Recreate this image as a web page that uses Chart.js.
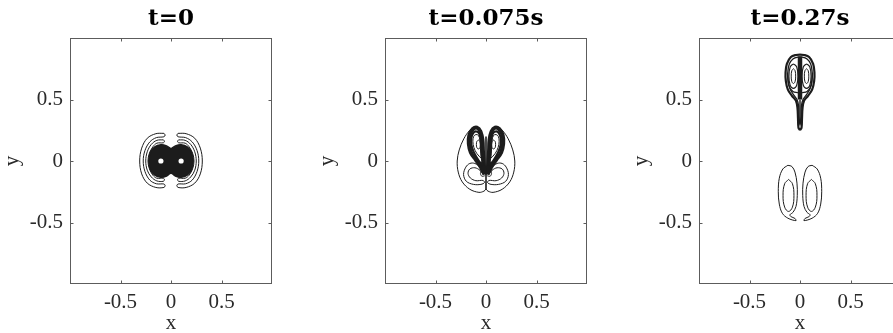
<!DOCTYPE html>
<html>
<head>
<meta charset="utf-8">
<script src="https://cdn.jsdelivr.net/npm/chart.js@4.4.1/dist/chart.umd.min.js"></script>
<style>
  html, body { margin: 0; padding: 0; background: #fff; overflow: hidden; width: 893px; height: 333px; }
  canvas { position: absolute; top: 0; }
</style>
</head>
<body>
<canvas id="c0" width="282" height="333" style="left:0px"></canvas>
<canvas id="c1" width="282" height="333" style="left:315px"></canvas>
<canvas id="c2" width="282" height="333" style="left:629px"></canvas>
<script>
// axes
const panelTitles = ["t=0", "t=0.075s", "t=0.27s"];
const xTicks = [-0.5, 0, 0.5];
const yTicks = [-0.5, 0, 0.5];
const tickLabels = ["-0.5", "0", "0.5"];

// --- t=0 : vortex pair with side lobes ---
const p1Blob = [[0,0.10],[0.05,0.125],[0.1,0.132],[0.16,0.115],[0.205,0.07],[0.22,0],[0.205,-0.07],[0.16,-0.115],[0.1,-0.132],[0.05,-0.125],[0,-0.10],[-0.05,-0.125],[-0.1,-0.132],[-0.16,-0.115],[-0.205,-0.07],[-0.22,0],[-0.205,0.07],[-0.16,0.115],[-0.1,0.132],[-0.05,0.125],[0,0.10]];
const p1Cores = [[-0.1,0],[0.1,0]];
const p1OuterLeft = [[-0.07,0.225],[-0.15,0.222],[-0.235,0.185],[-0.29,0.105],[-0.31,0],[-0.29,-0.105],[-0.235,-0.18],[-0.15,-0.215],[-0.07,-0.215],[-0.058,-0.2],[-0.07,-0.187],[-0.145,-0.185],[-0.21,-0.155],[-0.258,-0.085],[-0.275,0],[-0.258,0.085],[-0.21,0.155],[-0.145,0.19],[-0.07,0.197],[-0.058,0.211],[-0.07,0.225]];
const p1OuterRight = [[0.07,0.225],[0.15,0.222],[0.235,0.185],[0.29,0.105],[0.31,0],[0.29,-0.105],[0.235,-0.18],[0.15,-0.215],[0.07,-0.215],[0.058,-0.2],[0.07,-0.187],[0.145,-0.185],[0.21,-0.155],[0.258,-0.085],[0.275,0],[0.258,0.085],[0.21,0.155],[0.145,0.19],[0.07,0.197],[0.058,0.211],[0.07,0.225]];
const p1InnerLeft = [[-0.075,0.172],[-0.14,0.168],[-0.195,0.135],[-0.235,0.075],[-0.25,0],[-0.235,-0.075],[-0.195,-0.13],[-0.14,-0.162],[-0.075,-0.165],[-0.065,-0.152],[-0.075,-0.14],[-0.14,-0.14],[-0.18,-0.115],[-0.215,-0.06],[-0.228,0],[-0.215,0.06],[-0.18,0.115],[-0.14,0.145],[-0.075,0.148],[-0.065,0.16],[-0.075,0.172]];
const p1InnerRight = [[0.075,0.172],[0.14,0.168],[0.195,0.135],[0.235,0.075],[0.25,0],[0.235,-0.075],[0.195,-0.13],[0.14,-0.162],[0.075,-0.165],[0.065,-0.152],[0.075,-0.14],[0.14,-0.14],[0.18,-0.115],[0.215,-0.06],[0.228,0],[0.215,0.06],[0.18,0.115],[0.14,0.145],[0.075,0.148],[0.065,0.16],[0.075,0.172]];

// --- t=0.075s : rolled-up lobes ---
const p2EnvLeft = [[-0.1,0.28],[-0.16,0.25],[-0.22,0.18],[-0.265,0.09],[-0.285,0],[-0.275,-0.09],[-0.235,-0.17],[-0.16,-0.23],[-0.07,-0.255],[-0.02,-0.245],[0,-0.23]];
const p2EnvRight = [[0.1,0.28],[0.16,0.25],[0.22,0.18],[0.265,0.09],[0.285,0],[0.275,-0.09],[0.235,-0.17],[0.16,-0.23],[0.07,-0.255],[0.02,-0.245],[0,-0.23]];
const p2KidneyLeft = [[-0.025,-0.085],[-0.06,-0.05],[-0.11,-0.02],[-0.16,-0.02],[-0.2,-0.05],[-0.222,-0.11],[-0.195,-0.165],[-0.125,-0.19],[-0.05,-0.19],[-0.015,-0.175],[-0.03,-0.158],[-0.1,-0.16],[-0.155,-0.138],[-0.178,-0.1],[-0.16,-0.065],[-0.11,-0.055],[-0.06,-0.075],[-0.035,-0.1],[-0.025,-0.085]];
const p2KidneyRight = [[0.025,-0.085],[0.06,-0.05],[0.11,-0.02],[0.16,-0.02],[0.2,-0.05],[0.222,-0.11],[0.195,-0.165],[0.125,-0.19],[0.05,-0.19],[0.015,-0.175],[0.03,-0.158],[0.1,-0.16],[0.155,-0.138],[0.178,-0.1],[0.16,-0.065],[0.11,-0.055],[0.06,-0.075],[0.035,-0.1],[0.025,-0.085]];
const p2LobeLeft = [[-0.015,-0.11],[-0.022,-0.02],[-0.03,0.08],[-0.035,0.17],[-0.055,0.24],[-0.09,0.272],[-0.13,0.26],[-0.165,0.21],[-0.17,0.14],[-0.15,0.07],[-0.1,0.01],[-0.05,-0.05],[-0.015,-0.11]];
const p2LobeRight = [[0.015,-0.11],[0.022,-0.02],[0.03,0.08],[0.035,0.17],[0.055,0.24],[0.09,0.272],[0.13,0.26],[0.165,0.21],[0.17,0.14],[0.15,0.07],[0.1,0.01],[0.05,-0.05],[0.015,-0.11]];
const p2LobeMidLeft = [[-0.03,-0.04],[-0.045,0.06],[-0.05,0.16],[-0.065,0.22],[-0.095,0.24],[-0.125,0.23],[-0.145,0.19],[-0.145,0.13],[-0.12,0.07],[-0.07,0.0],[-0.03,-0.04]];
const p2LobeMidRight = [[0.03,-0.04],[0.045,0.06],[0.05,0.16],[0.065,0.22],[0.095,0.24],[0.125,0.23],[0.145,0.19],[0.145,0.13],[0.12,0.07],[0.07,0.0],[0.03,-0.04]];
const p2LobeInLeft = [[-0.045,0.02],[-0.055,0.1],[-0.06,0.17],[-0.075,0.208],[-0.1,0.215],[-0.122,0.2],[-0.13,0.16],[-0.12,0.11],[-0.09,0.06],[-0.045,0.02]];
const p2LobeInRight = [[0.045,0.02],[0.055,0.1],[0.06,0.17],[0.075,0.208],[0.1,0.215],[0.122,0.2],[0.13,0.16],[0.12,0.11],[0.09,0.06],[0.045,0.02]];
const p2OvalLeft = [[-0.075,0.17],[-0.06,0.16],[-0.055,0.135],[-0.06,0.108],[-0.075,0.098],[-0.09,0.108],[-0.095,0.135],[-0.09,0.16],[-0.075,0.17]];
const p2OvalRight = [[0.075,0.17],[0.09,0.16],[0.095,0.135],[0.09,0.108],[0.075,0.098],[0.06,0.108],[0.055,0.135],[0.06,0.16],[0.075,0.17]];
const p2CurlLeft = [[-0.01,-0.055],[-0.04,-0.07],[-0.055,-0.1],[-0.04,-0.125],[-0.012,-0.12]];
const p2CurlRight = [[0.01,-0.055],[0.04,-0.07],[0.055,-0.1],[0.04,-0.125],[0.012,-0.12]];
const p2Stem = [[0,0.2],[0,-0.235]];

// --- t=0.27s : ejected head and trailing pair ---
const p3KeyOuter = [[0,0.25],[0.015,0.27],[0.02,0.35],[0.025,0.43],[0.04,0.49],[0.08,0.53],[0.12,0.58],[0.14,0.65],[0.143,0.72],[0.13,0.79],[0.09,0.845],[0.04,0.862],[0,0.865],[-0.04,0.862],[-0.09,0.845],[-0.13,0.79],[-0.143,0.72],[-0.14,0.65],[-0.12,0.58],[-0.08,0.53],[-0.04,0.49],[-0.025,0.43],[-0.02,0.35],[-0.015,0.27],[0,0.25]];
const p3KeyInner = [[0,0.29],[0.01,0.36],[0.014,0.45],[0.03,0.5],[0.065,0.54],[0.1,0.59],[0.118,0.66],[0.12,0.73],[0.105,0.79],[0.07,0.83],[0.02,0.845],[-0.02,0.845],[-0.07,0.83],[-0.105,0.79],[-0.12,0.73],[-0.118,0.66],[-0.1,0.59],[-0.065,0.54],[-0.03,0.5],[-0.014,0.45],[-0.01,0.36],[0,0.29]];
const p3Bar = [[0,0.85],[0,0.5]];
const p3Stem = [[0,0.5],[0,0.3]];
const p3OvalLeftA = [[-0.065,0.79],[-0.033,0.765],[-0.02,0.69],[-0.033,0.615],[-0.065,0.59],[-0.097,0.615],[-0.11,0.69],[-0.097,0.765],[-0.065,0.79]];
const p3OvalRightA = [[0.065,0.79],[0.097,0.765],[0.11,0.69],[0.097,0.615],[0.065,0.59],[0.033,0.615],[0.02,0.69],[0.033,0.765],[0.065,0.79]];
const p3OvalLeftB = [[-0.065,0.75],[-0.049,0.735],[-0.043,0.69],[-0.049,0.645],[-0.065,0.63],[-0.081,0.645],[-0.087,0.69],[-0.081,0.735],[-0.065,0.75]];
const p3OvalRightB = [[0.065,0.75],[0.081,0.735],[0.087,0.69],[0.081,0.645],[0.065,0.63],[0.049,0.645],[0.043,0.69],[0.049,0.735],[0.065,0.75]];
const p3ULeft = [[-0.125,0.72],[-0.112,0.615],[-0.07,0.565],[-0.02,0.555]];
const p3URight = [[0.125,0.72],[0.112,0.615],[0.07,0.565],[0.02,0.555]];
const p3LowLeftOuter = [[-0.12,-0.035],[-0.17,-0.065],[-0.205,-0.14],[-0.215,-0.25],[-0.205,-0.35],[-0.175,-0.425],[-0.12,-0.465],[-0.04,-0.485],[-0.05,-0.467],[-0.09,-0.452],[-0.1,-0.437],[-0.07,-0.418],[-0.04,-0.37],[-0.027,-0.28],[-0.03,-0.18],[-0.05,-0.09],[-0.08,-0.045],[-0.12,-0.035]];
const p3LowRightOuter = [[0.12,-0.035],[0.17,-0.065],[0.205,-0.14],[0.215,-0.25],[0.205,-0.35],[0.175,-0.425],[0.12,-0.465],[0.04,-0.485],[0.05,-0.467],[0.09,-0.452],[0.1,-0.437],[0.07,-0.418],[0.04,-0.37],[0.027,-0.28],[0.03,-0.18],[0.05,-0.09],[0.08,-0.045],[0.12,-0.035]];
const p3LowLeftInner = [[-0.113,-0.15],[-0.075,-0.185],[-0.06,-0.28],[-0.075,-0.375],[-0.113,-0.41],[-0.152,-0.375],[-0.168,-0.28],[-0.152,-0.185],[-0.113,-0.15]];
const p3LowRightInner = [[0.113,-0.15],[0.152,-0.185],[0.168,-0.28],[0.152,-0.375],[0.113,-0.41],[0.075,-0.375],[0.06,-0.28],[0.075,-0.185],[0.113,-0.15]];

const INK = "#1c1c1c";
const TEXT = "#2a2a2a";
const FRAME = "#5c5c5c";

function pts(a) { return a.map(([x, y]) => ({ x, y })); }
function curve(a, w, extra) {
  return Object.assign({
    data: pts(a), showLine: true, pointRadius: 0, borderColor: INK,
    borderWidth: w, tension: 0.35, fill: false,
  }, extra || {});
}
function solid(a, w) { return curve(a, w, { fill: "shape", backgroundColor: INK }); }

const panels = [
  [
    curve(p1Cores, 0, { showLine: false, pointRadius: 2.6, pointBackgroundColor: "#fff", pointBorderWidth: 0 }),
    solid(p1Blob, 1.5),
    curve(p1OuterLeft, 1), curve(p1OuterRight, 1),
    curve(p1InnerLeft, 1), curve(p1InnerRight, 1),
  ],
  [
    curve(p2OvalLeft, 1, { tension: 0.4 }), curve(p2OvalRight, 1, { tension: 0.4 }),
    curve(p2LobeInLeft, 1), curve(p2LobeInRight, 1),
    curve(p2LobeMidLeft, 2.2), curve(p2LobeMidRight, 2.2),
    curve(p2LobeLeft, 4), curve(p2LobeRight, 4),
    curve(p2Stem, 1.6),
    curve(p2CurlLeft, 0.9), curve(p2CurlRight, 0.9),
    curve(p2KidneyLeft, 1), curve(p2KidneyRight, 1),
    curve(p2EnvLeft, 1), curve(p2EnvRight, 1),
  ],
  [
    curve(p3Bar, 4.5), curve(p3Stem, 1.4),
    curve(p3OvalLeftB, 1, { tension: 0.4 }), curve(p3OvalRightB, 1, { tension: 0.4 }),
    curve(p3OvalLeftA, 1.2, { tension: 0.4 }), curve(p3OvalRightA, 1.2, { tension: 0.4 }),
    curve(p3ULeft, 1.2), curve(p3URight, 1.2),
    curve(p3KeyInner, 1.3), curve(p3KeyOuter, 2.2),
    curve(p3LowLeftInner, 1, { tension: 0.4 }), curve(p3LowRightInner, 1, { tension: 0.4 }),
    curve(p3LowLeftOuter, 1), curve(p3LowRightOuter, 1),
  ],
];

// box, inward ticks and panel title (MATLAB look)
const framePlugin = {
  id: "frame",
  afterDraw(chart, args, opts) {
    const { ctx, chartArea: a, scales } = chart;
    const l = Math.round(a.left) + 0.5, r = Math.round(a.right) - 0.5;
    const t = Math.round(a.top) + 0.5, b = Math.round(a.bottom) - 0.5;
    ctx.save();
    ctx.strokeStyle = FRAME;
    ctx.lineWidth = 1;
    ctx.strokeRect(l, t, r - l, b - t);
    ctx.beginPath();
    xTicks.forEach(v => {
      const px = Math.round(scales.x.getPixelForValue(v)) + 0.5;
      ctx.moveTo(px, b); ctx.lineTo(px, b - 3);
      ctx.moveTo(px, t); ctx.lineTo(px, t + 3);
    });
    yTicks.forEach(v => {
      const py = Math.round(scales.y.getPixelForValue(v)) + 0.5;
      ctx.moveTo(l, py); ctx.lineTo(l + 3, py);
      ctx.moveTo(r, py); ctx.lineTo(r - 3, py);
    });
    ctx.stroke();
    ctx.fillStyle = "#000";
    ctx.font = 'bold 23px "DejaVu Serif"';
    ctx.textAlign = "center";
    ctx.textBaseline = "alphabetic";
    ctx.fillText(opts.text, (a.left + a.right) / 2, 25);
    ctx.restore();
  },
};

const tickFont = { family: "'Liberation Serif', serif", size: 21 };

panels.forEach((datasets, i) => {
  new Chart(document.getElementById("c" + i), {
    type: "scatter",
    data: { datasets },
    plugins: [framePlugin],
    options: {
      responsive: false,
      animation: false,
      layout: { padding: { top: 38, right: 10, left: 0, bottom: 0 } },
      plugins: {
        legend: { display: false },
        tooltip: { enabled: false },
        frame: { text: panelTitles[i] },
      },
      scales: {
        x: {
          type: "linear", min: -1, max: 1,
          afterBuildTicks: s => { s.ticks = xTicks.map(v => ({ value: v })); },
          afterFit: s => { s.height = 49; },
          grid: { display: false, drawTicks: false },
          border: { display: false },
          ticks: { font: tickFont, color: TEXT, padding: 6, maxRotation: 0,
                   callback: (v) => tickLabels[xTicks.indexOf(v)] },
          title: { display: true, text: "x", font: tickFont, color: TEXT, padding: { top: 0, bottom: -3 } },
        },
        y: {
          type: "linear", min: -1, max: 1,
          afterBuildTicks: s => { s.ticks = yTicks.map(v => ({ value: v })); },
          afterFit: s => { s.width = 70; },
          grid: { display: false, drawTicks: false },
          border: { display: false },
          ticks: { font: tickFont, color: TEXT, padding: 7,
                   callback: (v) => tickLabels[yTicks.indexOf(v)] },
          title: { display: true, text: "y", font: tickFont, color: TEXT, padding: 0 },
        },
      },
    },
  });
});
</script>
</body>
</html>
